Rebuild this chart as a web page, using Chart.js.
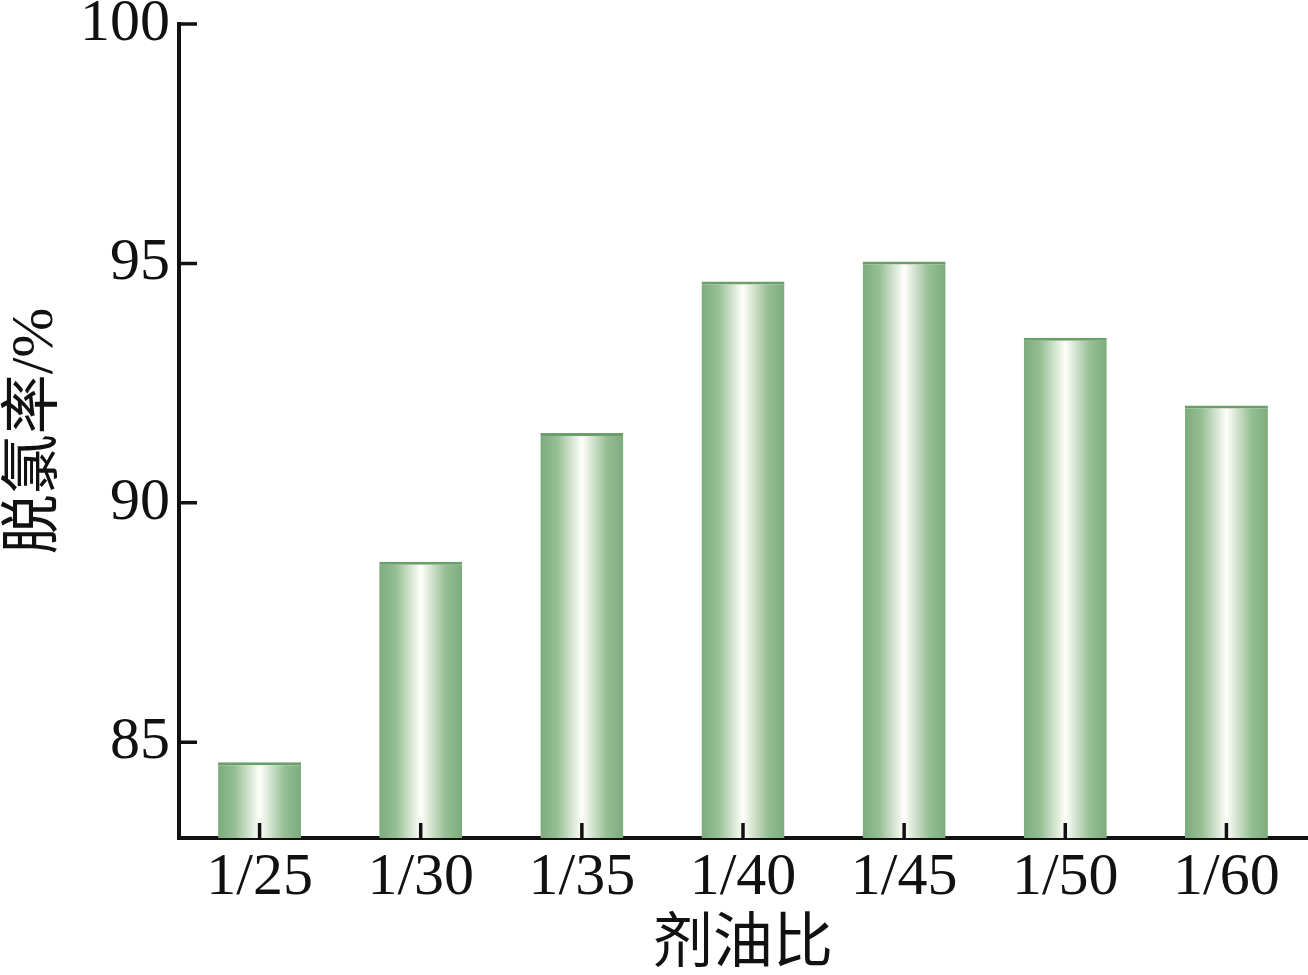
<!DOCTYPE html>
<html><head><meta charset="utf-8">
<script src="https://cdn.jsdelivr.net/npm/chart.js@4/dist/chart.umd.min.js"></script>
<style>html,body{margin:0;padding:0;background:#fff}#wrap{width:1308px;height:975px;position:relative}</style>
</head><body><div id="wrap"><canvas id="c"></canvas></div>
<script>
const categories = ['1/25','1/30','1/35','1/40','1/45','1/50','1/60'];
const removalRate = [84.58, 88.77, 91.46, 94.62, 95.04, 93.45, 92.03];
const yTicks = [85, 90, 95, 100];
const yTitle = '脱氯率/%';
const xTitle = '剂油比';

const BAR_PCT = 0.515;
function barGradient(ctx){
  const chart = ctx.chart;
  const xs = chart.scales.x;
  if (!xs || !chart.chartArea) return '#82b283';
  const cx = xs.getPixelForValue(ctx.dataIndex);
  const w = (xs.width / categories.length) * BAR_PCT;
  const g = chart.ctx.createLinearGradient(cx - w/2, 0, cx + w/2, 0);
  g.addColorStop(0, 'rgb(124,172,124)');
  g.addColorStop(0.2, 'rgb(150,190,148)');
  g.addColorStop(0.5, 'rgb(255,255,250)');
  g.addColorStop(0.8, 'rgb(150,190,148)');
  g.addColorStop(1, 'rgb(124,172,124)');
  return g;
}

const inwardTicks = {
  id: 'inwardTicks',
  afterDraw(chart){
    const c = chart.ctx, xs = chart.scales.x, ys = chart.scales.y;
    const a = chart.chartArea;
    c.save();
    c.strokeStyle = '#111';
    c.lineWidth = 3.5;
    c.beginPath();
    yTicks.forEach(v => {
      const y = ys.getPixelForValue(v);
      c.moveTo(a.left, y); c.lineTo(a.left + 18, y);
    });
    categories.forEach((_, i) => {
      const x = xs.getPixelForValue(i);
      c.moveTo(x, a.bottom); c.lineTo(x, a.bottom - 15);
    });
    c.stroke();
    c.restore();
  }
};

new Chart(document.getElementById('c'), {
  type: 'bar',
  data: {
    labels: categories,
    datasets: [{
      data: removalRate,
      backgroundColor: barGradient,
      borderColor: 'rgb(108,158,108)',
      borderWidth: {top: 3, left: 0, right: 0, bottom: 0},
      borderSkipped: 'bottom',
      categoryPercentage: 1,
      barPercentage: BAR_PCT
    }]
  },
  options: {
    responsive: true,
    maintainAspectRatio: false,
    animation: false,
    layout: {padding: {top: 24, right: 1, left: 0, bottom: 0}},
    plugins: {legend: {display: false}, tooltip: {enabled: false}},
    scales: {
      x: {
        grid: {display: false, drawTicks: false},
        border: {display: true, color: '#111', width: 4},
        ticks: {color: '#111', padding: 4, font: {family: 'Liberation Serif', size: 60}},
        title: {display: true, text: xTitle, color: '#111', padding: {top: 0, bottom: 0},
                font: {family: '"Noto Sans CJK SC"', size: 60}},
        afterFit: s => { s.height = 137; s.paddingLeft = 0; s.paddingRight = 0; }
      },
      y: {
        min: 83, max: 100,
        afterBuildTicks: s => { s.ticks = yTicks.map(v => ({value: v})); },
        grid: {display: false, drawTicks: false},
        border: {display: true, color: '#111', width: 4},
        ticks: {color: '#111', padding: 9, font: {family: 'Liberation Serif', size: 60}},
        title: {display: true, text: yTitle, color: '#111', padding: {top: 0, bottom: 0},
                font: {family: '"Liberation Serif", "Noto Sans CJK SC"', size: 60}},
        afterFit: s => { s.width = 179; s.paddingTop = 0; s.paddingBottom = 0; }
      }
    }
  },
  plugins: [inwardTicks]
});
</script></body></html>
